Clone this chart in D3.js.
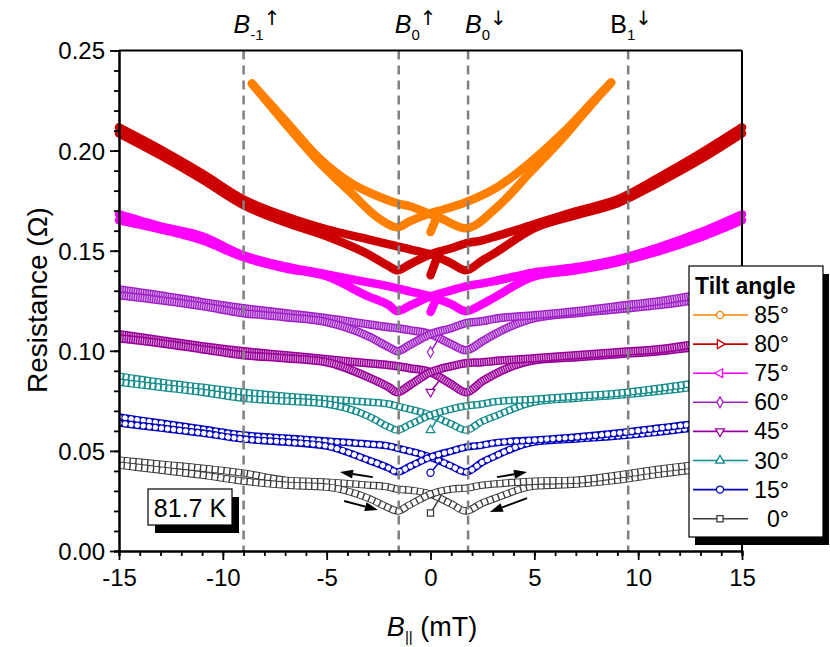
<!DOCTYPE html>
<html>
<head>
<meta charset="utf-8">
<script src="https://cdn.jsdelivr.net/npm/d3@7"></script>
<style>
  body { margin: 0; background: #fff; }
  svg { font-family: "Liberation Sans", Arial, sans-serif; }
</style>
</head>
<body>
<svg id="chart" width="830" height="647"></svg>
<script>
// field grid (mT) the sweeps were read at
const fieldSweep = [-15, -13, -11, -9, -7, -5, -3, -2, -1.6, -1, 0, 1, 1.7, 2.5, 3, 5, 7, 9, 11, 13, 15];
const fieldSweep85 = [-8.6, -7, -5.4, -3.8, -2.5, -1.6, -1, 0, 0.5, 1.7, 3.2, 4.8, 6.4, 8, 8.7];

const tiltAngles = ["85°", "80°", "75°", "60°", "45°", "30°", "15°", "0°"];
const tiltColours = ["#ff8000", "#cc0000", "#ff00ff", "#a020c8", "#990099", "#148c8c", "#0000c0", "#3a3a3a"];

// resistance (ohm): "up" = sweep towards +B, "down" = sweep towards -B
const up85 = [0.2335, 0.2136, 0.1946, 0.1786, 0.1662, 0.1617, 0.1647, 0.1687, 0.1702, 0.1742, 0.1816, 0.1941, 0.2091, 0.2265, 0.2340];
const down85 = [0.2335, 0.2151, 0.1966, 0.1836, 0.1771, 0.1737, 0.1722, 0.1682, 0.1662, 0.1612, 0.1717, 0.1891, 0.2066, 0.2260, 0.2340];
const start85 = [[0, 0.1593], [0.3, 0.1667]];

const up80 = [0.2086, 0.1976, 0.1856, 0.1727, 0.1642, 0.1572, 0.1482, 0.1422, 0.1402, 0.1432, 0.1482, 0.1512, 0.1537, 0.1552, 0.1567, 0.1632, 0.1697, 0.1756, 0.1866, 0.1986, 0.2116];
const down80 = [0.2116, 0.2006, 0.1886, 0.1756, 0.1672, 0.1607, 0.1557, 0.1532, 0.1522, 0.1507, 0.1482, 0.1437, 0.1402, 0.1452, 0.1482, 0.1612, 0.1677, 0.1737, 0.1841, 0.1956, 0.2086];
const start80 = [[0, 0.1377], [0.25, 0.1447]];

const up75 = [0.1652, 0.1607, 0.1552, 0.1467, 0.1412, 0.1372, 0.1272, 0.1228, 0.1198, 0.1225, 0.1272, 0.1302, 0.1322, 0.1337, 0.1347, 0.1392, 0.1417, 0.1457, 0.1517, 0.1592, 0.1682];
const down75 = [0.1682, 0.1622, 0.1572, 0.1477, 0.1422, 0.1382, 0.1342, 0.1322, 0.1312, 0.1297, 0.1272, 0.1233, 0.1198, 0.1233, 0.1262, 0.1372, 0.1402, 0.1442, 0.1497, 0.1567, 0.1652];
const start75 = [[0, 0.1194], [0.25, 0.1252]];

const up60 = [0.1277, 0.1252, 0.1223, 0.1188, 0.1168, 0.1143, 0.1073, 0.1018, 0.0998, 0.1029, 0.1083, 0.1113, 0.1138, 0.1148, 0.1158, 0.1178, 0.1198, 0.1223, 0.1248, 0.1282, 0.1322];
const down60 = [0.1307, 0.1277, 0.1243, 0.1213, 0.1188, 0.1163, 0.1133, 0.1118, 0.1113, 0.1103, 0.1083, 0.1033, 0.1003, 0.1048, 0.1078, 0.1163, 0.1188, 0.1208, 0.1228, 0.1257, 0.1297];
const start60 = [[0, 0.0993], [0.35, 0.1053]];

const up45 = [0.1063, 0.1038, 0.1008, 0.0978, 0.0963, 0.0943, 0.0868, 0.0818, 0.0793, 0.0828, 0.0893, 0.0923, 0.0938, 0.0943, 0.0948, 0.0963, 0.0978, 0.0993, 0.1008, 0.1038, 0.1078];
const down45 = [0.1083, 0.1053, 0.1023, 0.0998, 0.0978, 0.0958, 0.0938, 0.0928, 0.0923, 0.0913, 0.0893, 0.0833, 0.0793, 0.0848, 0.0878, 0.0953, 0.0968, 0.0983, 0.0998, 0.1023, 0.1053];
const start45 = [[0, 0.0795], [0.45, 0.0853]];

const up30 = [0.0843, 0.0818, 0.0793, 0.0763, 0.0749, 0.0734, 0.0674, 0.0619, 0.0604, 0.0631, 0.0679, 0.0709, 0.0724, 0.0734, 0.0744, 0.0758, 0.0773, 0.0788, 0.0813, 0.0843, 0.0878];
const down30 = [0.0873, 0.0843, 0.0818, 0.0793, 0.0773, 0.0758, 0.0744, 0.0734, 0.0724, 0.0709, 0.0679, 0.0634, 0.0604, 0.0649, 0.0669, 0.0744, 0.0763, 0.0778, 0.0798, 0.0823, 0.0853];
const start30 = [[0, 0.0604], [0.35, 0.0664]];

const up15 = [0.0639, 0.0614, 0.0589, 0.0559, 0.0544, 0.0524, 0.0454, 0.0414, 0.0394, 0.0422, 0.0469, 0.0499, 0.0519, 0.0529, 0.0539, 0.0554, 0.0569, 0.0589, 0.0614, 0.0639, 0.0669];
const down15 = [0.0669, 0.0639, 0.0609, 0.0579, 0.0564, 0.0549, 0.0534, 0.0524, 0.0514, 0.0499, 0.0469, 0.0424, 0.0394, 0.0444, 0.0469, 0.0544, 0.0559, 0.0574, 0.0594, 0.0619, 0.0644];
const start15 = [[0, 0.0391], [0.45, 0.0446]];

const up0 = [0.0429, 0.0404, 0.0379, 0.0349, 0.0329, 0.0319, 0.0264, 0.0215, 0.0200, 0.0231, 0.0284, 0.0309, 0.0314, 0.0329, 0.0334, 0.0349, 0.0354, 0.0379, 0.0409, 0.0434, 0.0464];
const down0 = [0.0454, 0.0434, 0.0414, 0.0389, 0.0354, 0.0344, 0.0329, 0.0319, 0.0309, 0.0304, 0.0284, 0.0235, 0.0200, 0.0240, 0.0259, 0.0324, 0.0334, 0.0354, 0.0384, 0.0409, 0.0434];
const start0 = [[0, 0.0190], [0.45, 0.0264]];

// switching fields (dashed lines) and their labels
const switchFields = [-9.0, -1.53, 1.81, 9.52];
const switchIndex = ["-1", "0", "0", "1"];
const switchDir = ["↑", "↑", "↓", "↓"];

// sweep direction arrows [B from, R from, B to, R to]
const sweepArrows = [
  [-2.78, 0.0369, -4.36, 0.0394],
  [-4.16, 0.0250, -2.53, 0.0205],
  [3.20, 0.0369, 4.65, 0.0394],
  [4.65, 0.0264, 2.86, 0.0195]
];

const xTicks = [-15, -10, -5, 0, 5, 10, 15];
const yTicks = [0, 0.05, 0.10, 0.15, 0.20, 0.25];

let svg = d3.select("#chart");

let x = d3.scaleLinear().domain([-15, 15]).range([119, 742]);
let y = d3.scaleLinear().domain([0, 0.25]).range([551, 50.5]);

let line = d3.line()
  .x(function(d) { return x(d[0]); })
  .y(function(d) { return y(d[1]); })
  .curve(d3.curveMonotoneX);

let ups = [up85, up80, up75, up60, up45, up30, up15, up0];
let downs = [down85, down80, down75, down60, down45, down30, down15, down0];
let starts = [start85, start80, start75, start60, start45, start30, start15, start0];
let styles = ["solid", "solid", "solid", "hatch", "hatch", "tri", "ring", "box"];

let series = tiltAngles.map(function(name, i) {
  let field = i == 0 ? fieldSweep85 : fieldSweep;
  return {
    name: name,
    colour: tiltColours[i],
    style: styles[i],
    up: field.map(function(b, j) { return [b, ups[i][j]]; }),
    down: field.map(function(b, j) { return [b, downs[i][j]]; }),
    start: starts[i]
  };
});

// marker shapes used in the legend and at the sweep start
let markers = [
  { type: d3.symbolCircle, size: 40, rot: 0 },
  { type: d3.symbolTriangle, size: 34, rot: 90 },
  { type: d3.symbolTriangle, size: 34, rot: -90 },
  { type: d3.symbolDiamond, size: 34, rot: 0 },
  { type: d3.symbolTriangle, size: 34, rot: 180 },
  { type: d3.symbolTriangle, size: 34, rot: 0 },
  { type: d3.symbolCircle, size: 40, rot: 0 },
  { type: d3.symbolSquare, size: 38, rot: 0 }
];

function drawBand(g, pts, s) {
  let d = line(pts);
  if (s.style == "solid") {
    g.append("path").attr("d", d)
      .attr("fill", "none").attr("stroke", s.colour)
      .attr("stroke-width", 8.5)
      .attr("stroke-linecap", "round").attr("stroke-linejoin", "round");
    return;
  }
  let outer = { hatch: 8.5, tri: 7.5, ring: 7.5, box: 7.5 }[s.style];
  let inner = { hatch: 5.5, tri: 5, ring: 5.2, box: 5.5 }[s.style];
  let dash = { hatch: "1.1 1.2", tri: "3.4 2", ring: "0.1 6", box: "4.5 1.4" }[s.style];
  g.append("path").attr("d", d)
    .attr("fill", "none").attr("stroke", s.colour)
    .attr("stroke-width", outer)
    .attr("stroke-linejoin", "round");
  g.append("path").attr("d", d)
    .attr("fill", "none").attr("stroke", "#fff")
    .attr("stroke-width", inner)
    .attr("stroke-opacity", s.style == "hatch" ? 0.6 : 1)
    .attr("stroke-linecap", s.style == "ring" ? "round" : "butt")
    .attr("stroke-dasharray", dash);
}

// curves, lowest angle first
let curveGroup = svg.append("g");
series.slice().reverse().forEach(function(s) {
  let g = curveGroup.append("g");
  drawBand(g, s.down, s);
  drawBand(g, s.up, s);
  if (s.style == "solid") {
    drawBand(g, s.start, s);
  } else {
    g.append("path").attr("d", line(s.start))
      .attr("fill", "none").attr("stroke", s.colour).attr("stroke-width", 1.5);
    let i = tiltAngles.indexOf(s.name);
    g.append("path")
      .attr("d", d3.symbol().type(markers[i].type).size(markers[i].size)())
      .attr("transform", "translate(" + x(s.start[0][0]) + "," + y(s.start[0][1]) + ") rotate(" + markers[i].rot + ")")
      .attr("fill", "#fff").attr("stroke", s.colour).attr("stroke-width", 1.2);
  }
});

// dashed switching lines
svg.append("g").selectAll("line")
  .data(switchFields)
  .enter().append("line")
    .attr("x1", function(d) { return x(d); })
    .attr("x2", function(d) { return x(d); })
    .attr("y1", y(0.25))
    .attr("y2", y(0))
    .attr("stroke", "#808080")
    .attr("stroke-width", 2.5)
    .attr("stroke-dasharray", "9 6");

// switching labels above the frame
let labelShift = [-10, -4, -3, -18];
switchFields.forEach(function(f, i) {
  let t = svg.append("text")
    .attr("x", x(f) + labelShift[i])
    .attr("y", 33)
    .attr("font-size", 25);
  t.append("tspan").attr("font-style", i == 3 ? "normal" : "italic").text("B");
  t.append("tspan").attr("font-size", 15).attr("dy", 7).text(switchIndex[i]);
  t.append("tspan").attr("font-size", 20).attr("dy", -15)
    .attr("font-family", "DejaVu Sans").text(switchDir[i]);
});

// sweep arrows
let arrowGroup = svg.append("g");
sweepArrows.forEach(function(a) {
  let x0 = x(a[0]), y0 = y(a[1]), x1 = x(a[2]), y1 = y(a[3]);
  let ang = Math.atan2(y1 - y0, x1 - x0);
  let head = 13, half = 4.5;
  let bx = x1 - head * Math.cos(ang), by = y1 - head * Math.sin(ang);
  arrowGroup.append("line")
    .attr("x1", x0).attr("y1", y0).attr("x2", bx).attr("y2", by)
    .attr("stroke", "#000").attr("stroke-width", 2);
  arrowGroup.append("path")
    .attr("d", "M" + x1 + "," + y1 +
      "L" + (bx - half * Math.sin(ang)) + "," + (by + half * Math.cos(ang)) +
      "L" + (bx + half * Math.sin(ang)) + "," + (by - half * Math.cos(ang)) + "Z")
    .attr("fill", "#000");
});

// frame top and right
svg.append("line")
  .attr("x1", x(-15)).attr("x2", x(15)).attr("y1", y(0.25)).attr("y2", y(0.25))
  .attr("stroke", "#000").attr("stroke-width", 2);
svg.append("line")
  .attr("x1", x(15)).attr("x2", x(15)).attr("y1", y(0.25)).attr("y2", y(0))
  .attr("stroke", "#000").attr("stroke-width", 2);

// axes
let xMinor = svg.append("g")
  .attr("transform", "translate(0," + y(0) + ")")
  .call(d3.axisBottom(x).tickValues(d3.range(-15, 15.5, 1)).tickSize(5).tickFormat(""));
let xAxis = svg.append("g")
  .attr("transform", "translate(0," + y(0) + ")")
  .call(d3.axisBottom(x).tickValues(xTicks).tickSize(9).tickSizeOuter(0).tickPadding(6)
    .tickFormat(function(d) { return String(d); }));
let yMinor = svg.append("g")
  .attr("transform", "translate(" + x(-15) + ",0)")
  .call(d3.axisLeft(y).tickValues(d3.range(0, 0.2551, 0.01)).tickSize(5).tickFormat(""));
let yAxis = svg.append("g")
  .attr("transform", "translate(" + x(-15) + ",0)")
  .call(d3.axisLeft(y).tickValues(yTicks).tickSize(9).tickSizeOuter(0).tickPadding(5)
    .tickFormat(d3.format(".2f")));

[xMinor, xAxis, yMinor, yAxis].forEach(function(a) {
  a.selectAll("path").attr("stroke", "#000").attr("stroke-width", 2);
  a.selectAll("line").attr("stroke", "#000").attr("stroke-width", 1.8);
  a.selectAll("text").attr("font-size", 24).attr("fill", "#000")
    .attr("font-family", "Liberation Sans, Arial, sans-serif");
});
xAxis.selectAll("text").attr("dy", "0.85em");
yAxis.selectAll("text").attr("dy", "0.35em");

// axis titles
let xTitle = svg.append("text")
  .attr("x", 432).attr("y", 636)
  .attr("text-anchor", "middle").attr("font-size", 27);
xTitle.append("tspan").attr("font-style", "italic").text("B");
xTitle.append("tspan").attr("font-size", 15).attr("dy", 6).text("||");
xTitle.append("tspan").attr("dy", -6).text(" (mT)");

svg.append("text")
  .attr("transform", "translate(47,300) rotate(-90)")
  .attr("text-anchor", "middle").attr("font-size", 28)
  .text("Resistance (Ω)");

// temperature box
svg.append("rect").attr("x", 155).attr("y", 497).attr("width", 84).attr("height", 36).attr("fill", "#000");
svg.append("rect").attr("x", 148).attr("y", 489).attr("width", 84).attr("height", 36)
  .attr("fill", "#fff").attr("stroke", "#000").attr("stroke-width", 1.2);
svg.append("text").attr("x", 190).attr("y", 517).attr("text-anchor", "middle")
  .attr("font-size", 25).text("81.7 K");

// legend
let legend = svg.append("g");
legend.append("rect").attr("x", 695).attr("y", 274).attr("width", 134).attr("height", 271).attr("fill", "#000");
legend.append("rect").attr("x", 689).attr("y", 266).attr("width", 134).attr("height", 271)
  .attr("fill", "#fff").attr("stroke", "#000").attr("stroke-width", 1.2);
legend.append("text").attr("x", 695).attr("y", 294)
  .attr("font-size", 23).attr("font-weight", "bold").text("Tilt angle");

let rows = legend.selectAll(".row")
  .data(series)
  .enter().append("g")
    .classed("row", true)
    .attr("transform", function(d, i) { return "translate(0," + (315 + i * 29.1) + ")"; });
rows.append("line")
  .attr("x1", 693).attr("x2", 748)
  .attr("stroke", function(d) { return d.colour; })
  .attr("stroke-width", 1.6);
rows.append("path")
  .attr("d", function(d, i) { return d3.symbol().type(markers[i].type).size(markers[i].size)(); })
  .attr("transform", function(d, i) { return "translate(720,0) rotate(" + markers[i].rot + ")"; })
  .attr("fill", "#fff")
  .attr("stroke", function(d) { return d.colour; })
  .attr("stroke-width", 1.3);
rows.append("text")
  .attr("x", 789).attr("y", 8)
  .attr("text-anchor", "end").attr("font-size", 23)
  .text(function(d) { return d.name; });
</script>
</body>
</html>
